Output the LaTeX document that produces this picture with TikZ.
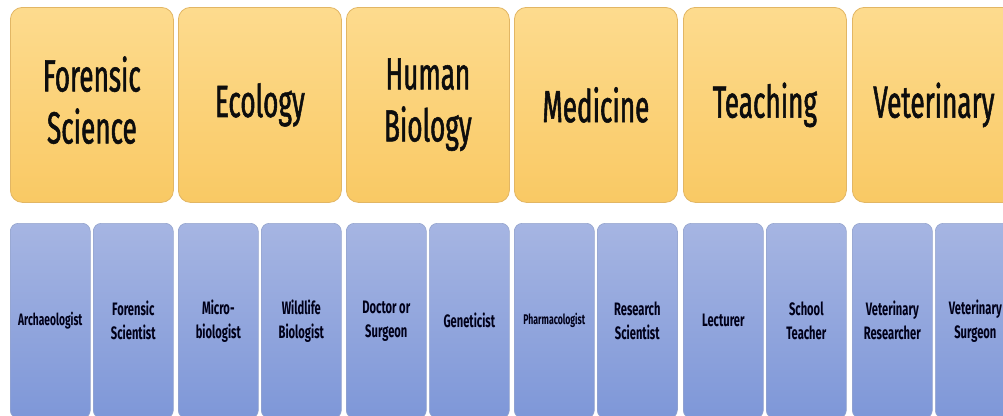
\documentclass[tikz,border=0pt]{standalone}
\usepackage{fontspec}
\newfontfamily\topfont{Fira Sans}[FakeStretch=0.58,FakeBold=1.2]
\newfontfamily\subfont{Fira Sans}[FakeStretch=0.62]
\definecolor{ytop}{RGB}{253,219,142}
\definecolor{ybot}{RGB}{249,201,100}
\definecolor{yline}{RGB}{226,182,100}
\definecolor{btop}{RGB}{166,181,226}
\definecolor{bbot}{RGB}{126,151,216}
\definecolor{bline}{RGB}{150,165,205}
\tikzset{
  catbox/.style={draw=yline, line width=0.8pt, rounded corners=12pt,
    top color=ytop, bottom color=ybot, anchor=north west,
    minimum width=163pt, minimum height=195pt, inner sep=0pt,
    align=center, text=black!95,
    font=\topfont\fontsize{45}{52}\selectfont},
  jobbox/.style={draw=bline, line width=0.6pt, rounded corners=8pt,
    top color=btop, bottom color=bbot, anchor=north west,
    minimum width=80pt, minimum height=195pt, inner sep=0pt,
    align=center, text=black!90!blue,
    font=\subfont\bfseries\fontsize{18}{24}\selectfont},
}
\begin{document}
\begin{tikzpicture}[x=1pt,y=-1pt]
\useasboundingbox (0,0) rectangle (1003,415);
\clip (0,0) rectangle (1003,415);
% top row
\node[catbox] (c1) at (10,7)  {Forensic\\Science\rule[-10pt]{0pt}{0pt}};
\node[catbox] (c2) at (178,7) {Ecology};
\node[catbox] (c3) at (346,7) {Human\\Biology\rule[-10pt]{0pt}{0pt}};
\node[catbox] (c4) at (514,7) {Medicine};
\node[catbox] (c5) at (683,7) {Teaching};
\node[catbox] (c6) at (852,7) {Veterinary};
% bottom row
\node[jobbox, font=\subfont\bfseries\fontsize{16.5}{24}\selectfont] (j1)  at (10,223)  {Archaeologist};
\node[jobbox] (j2)  at (93,223)  {Forensic\\Scientist};
\node[jobbox] (j3)  at (178,223) {Micro-\\biologist};
\node[jobbox] (j4)  at (261,223) {Wildlife\\Biologist};
\node[jobbox] (j5)  at (346,223) {Doctor or\\Surgeon};
\node[jobbox] (j6)  at (429,223) {Geneticist};
\node[jobbox, font=\subfont\bfseries\fontsize{14}{20}\selectfont] (j7) at (514,223) {Pharmacologist};
\node[jobbox] (j8)  at (597,223) {Research\\Scientist};
\node[jobbox] (j9)  at (683,223) {Lecturer};
\node[jobbox] (j10) at (766,223) {School\\Teacher};
\node[jobbox] (j11) at (852,223) {Veterinary\\Researcher};
\node[jobbox] (j12) at (935,223) {Veterinary\\Surgeon};
\end{tikzpicture}
\end{document}
